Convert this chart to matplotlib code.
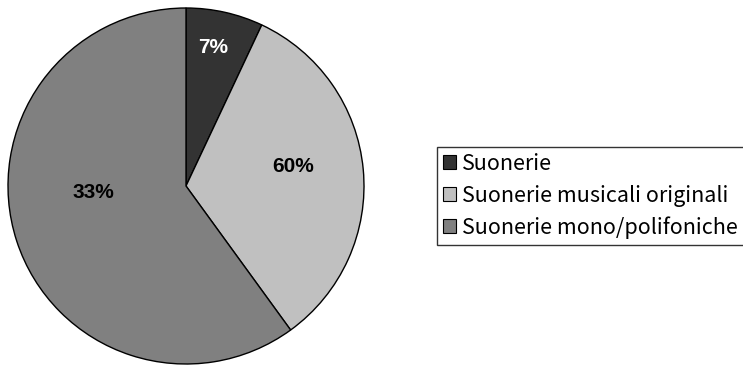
import matplotlib
matplotlib.use('Agg')
import matplotlib.pyplot as plt
import numpy as np

# data
categories = ['Suonerie', 'Suonerie musicali originali', 'Suonerie mono/polifoniche']
values = [7, 33, 60]
slice_labels = ['7%', '60%', '33%']   # labels as printed on the original
colors = ['#333333', '#C0C0C0', '#808080']
label_colors = ['white', 'black', 'black']
# label placement (x, y in pie radius units)
label_pos = [(0.15, 0.78), (0.60, 0.11), (-0.52, -0.035)]

fig = plt.figure(figsize=(7.43, 3.66), dpi=100)
ax = fig.add_axes([8 / 743, 2 / 366, 356 / 743, 356 / 366])

wedges, _ = ax.pie(values, colors=colors, startangle=90, counterclock=False,
                   radius=1.0,
                   wedgeprops=dict(edgecolor='black', linewidth=1.0))
ax.set_xlim(-1.0, 1.0)
ax.set_ylim(-1.0, 1.0)
ax.set_aspect('equal')
ax.axis('off')

for (x, y), txt, c in zip(label_pos, slice_labels, label_colors):
    ax.text(x, y, txt, ha='center', va='center', fontsize=15,
            fontweight='bold', color=c, family='Liberation Sans')

leg = fig.legend(wedges, categories, loc='upper left',
                 bbox_to_anchor=(437 / 743, 1 - 147 / 366),
                 frameon=True, fancybox=False, edgecolor='black',
                 prop={'family': ['Noto Sans CJK JP', 'DejaVu Sans'], 'size': 15.5},
                 handlelength=0.62, handleheight=0.62,
                 handletextpad=0.25, labelspacing=0.45, borderpad=0.28,
                 borderaxespad=0)
leg.get_frame().set_linewidth(1.0)
for h in leg.legend_handles:
    h.set_linewidth(0.8)

fig.savefig('out.png', dpi=100)
